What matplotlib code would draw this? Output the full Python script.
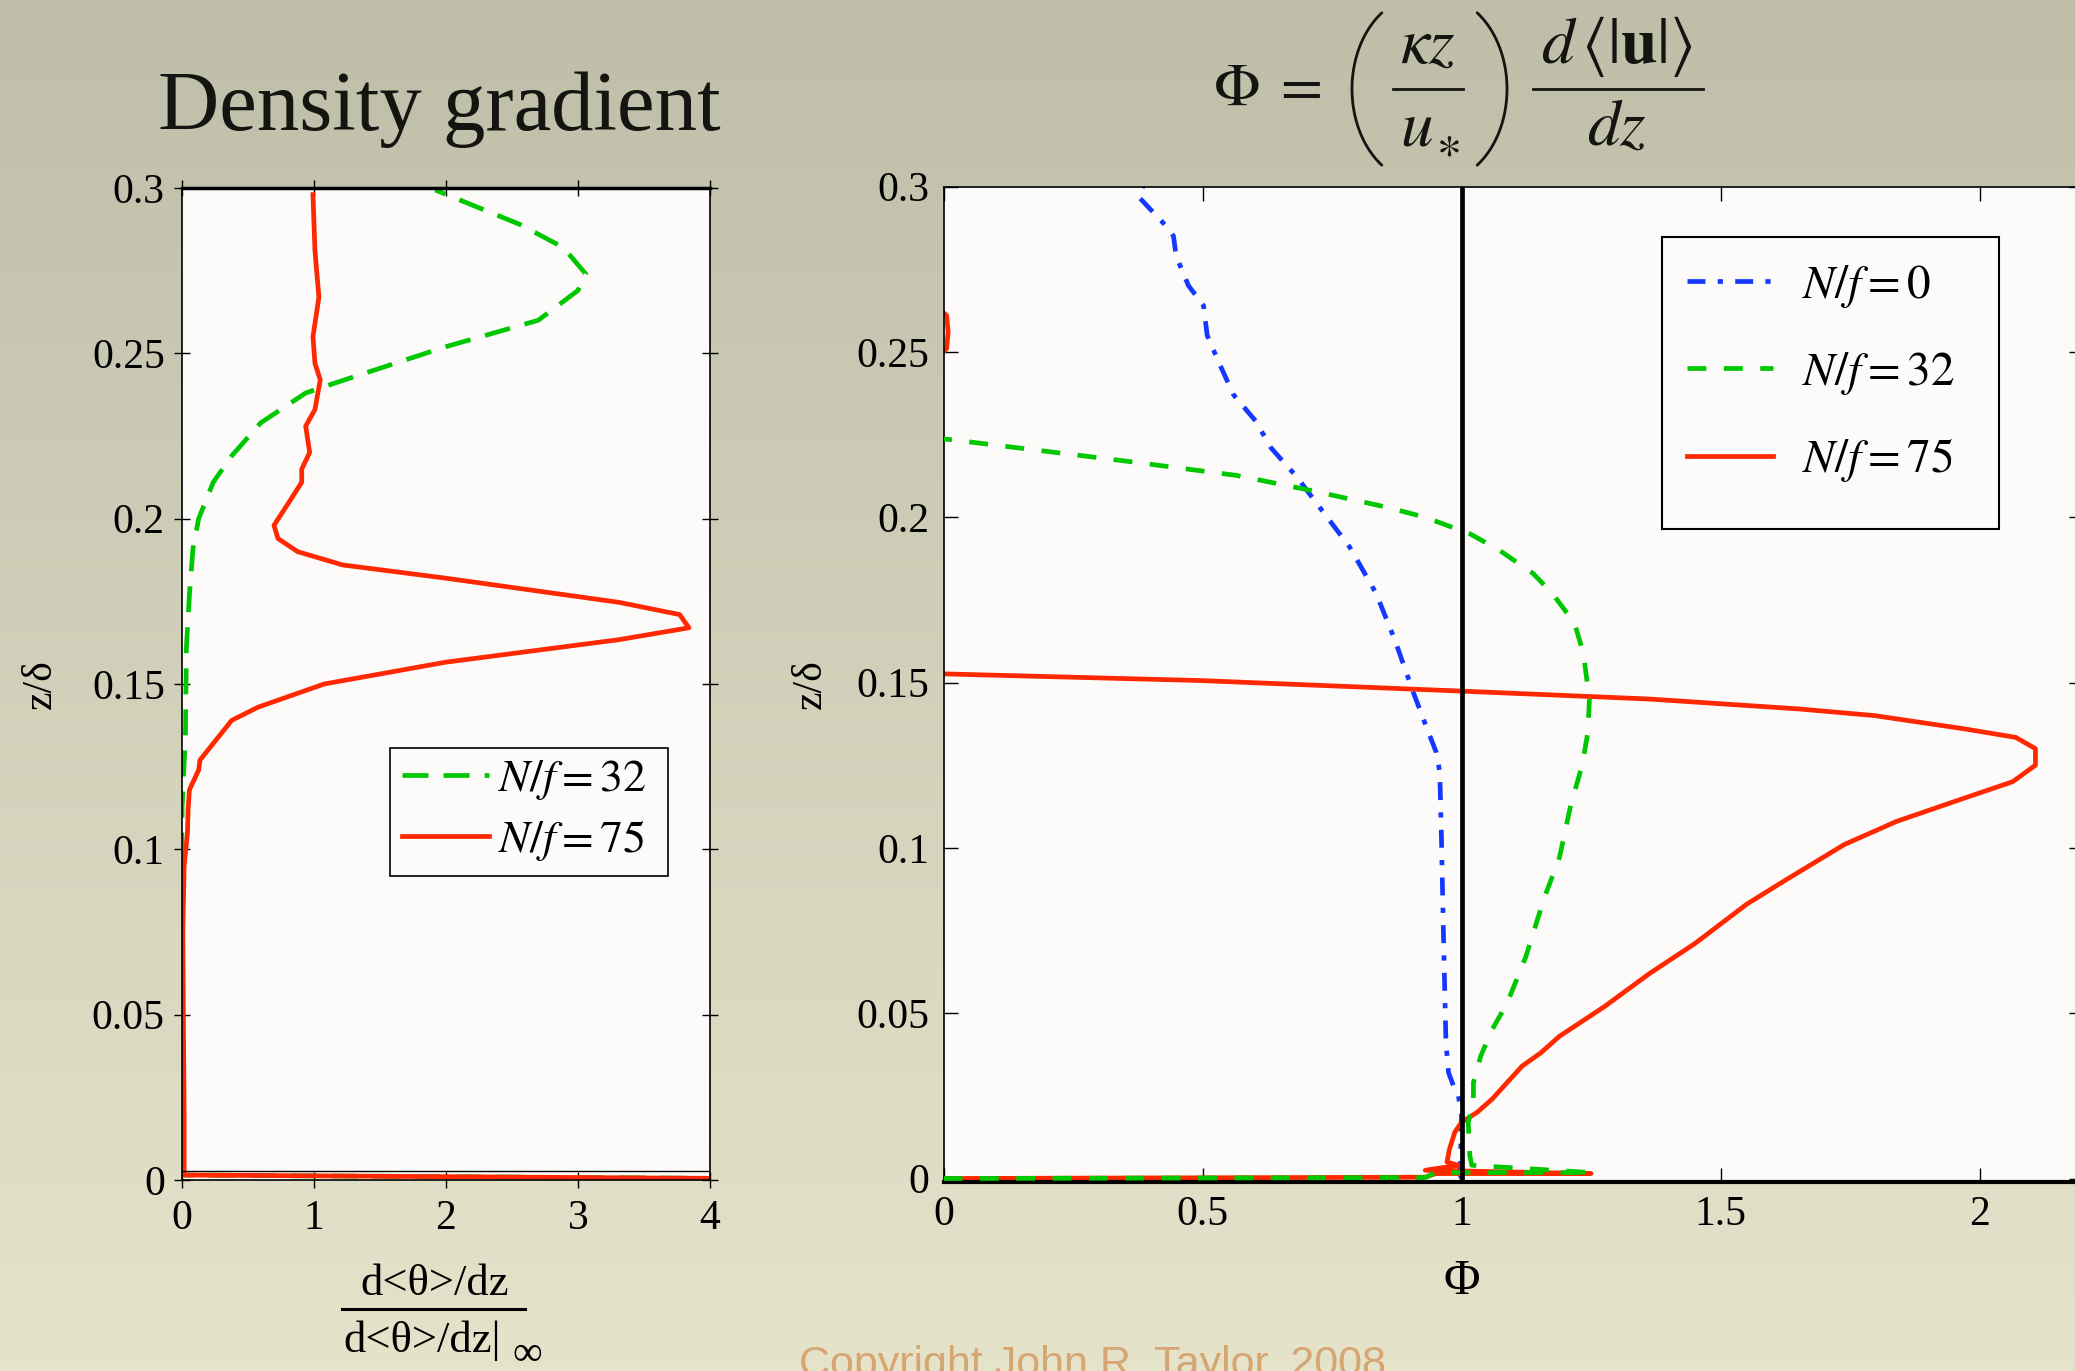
import numpy as np
import matplotlib
matplotlib.use('Agg')
from matplotlib import pyplot as plt
from matplotlib.patches import Rectangle
from matplotlib.lines import Line2D

plt.rcParams['font.family'] = ['Liberation Serif', 'DejaVu Serif']
plt.rcParams['mathtext.fontset'] = 'stix'

W, H = 2075, 1371

# ---- data: left panel (density gradient), x = d<theta>/dz normalised, z = z/delta
left_red_z = [0, 0.0015, 0.02, 0.045, 0.075, 0.095, 0.105, 0.112, 0.118, 0.124, 0.127, 0.131,
              0.135, 0.139, 0.143, 0.150, 0.1566, 0.1634, 0.167, 0.171, 0.1747, 0.182, 0.186,
              0.190, 0.194, 0.198, 0.206, 0.211, 0.215, 0.220, 0.228, 0.233, 0.242, 0.247,
              0.255, 0.267, 0.281, 0.298]
left_red_x = [6.0, 0.02, 0.02, 0.015, 0.01, 0.02, 0.045, 0.05, 0.06, 0.13, 0.14, 0.22,
              0.30, 0.38, 0.58, 1.08, 2.0, 3.31, 3.84, 3.77, 3.31, 2.0, 1.22,
              0.88, 0.73, 0.70, 0.83, 0.91, 0.91, 0.97, 0.94, 1.01, 1.05, 1.01,
              0.995, 1.04, 1.01, 0.995]
left_green_z = [0, 0.0015, 0.05, 0.095, 0.113, 0.135, 0.161, 0.177, 0.191, 0.200, 0.211,
                0.219, 0.229, 0.238, 0.241, 0.252, 0.260, 0.269, 0.274, 0.282, 0.289, 0.2994]
left_green_x = [6.0, 0.0, 0.0, 0.0, 0.005, 0.03, 0.037, 0.06, 0.087, 0.13, 0.24,
                0.38, 0.60, 0.94, 1.16, 2.0, 2.70, 3.0, 3.06, 2.89, 2.56, 1.92]

# ---- data: right panel, Phi profiles
blue_z = [0.0, 0.002, 0.005, 0.019, 0.025, 0.027, 0.032, 0.041, 0.075, 0.105, 0.123, 0.129,
          0.135, 0.147, 0.163, 0.177, 0.191, 0.203, 0.212, 0.221, 0.229, 0.237, 0.247,
          0.255, 0.264, 0.270, 0.279, 0.285, 0.288, 0.297, 0.300]
blue_x = [1.0, 0.995, 0.998, 1.0, 0.994, 0.987, 0.975, 0.970, 0.965, 0.961, 0.958, 0.951,
          0.936, 0.907, 0.871, 0.835, 0.784, 0.726, 0.683, 0.632, 0.603, 0.560, 0.531,
          0.509, 0.502, 0.473, 0.449, 0.444, 0.43, 0.376, 0.385]
green_z = [0, 0.0003, 0.0018, 0.0018, 0.004, 0.007, 0.017, 0.023, 0.029, 0.037, 0.045,
           0.053, 0.067, 0.085, 0.097, 0.113, 0.125, 0.135, 0.145, 0.159, 0.168, 0.177,
           0.183, 0.190, 0.195, 0.200, 0.203, 0.208, 0.2126, 0.217, 0.2234, 0.228, 0.24]
green_x = [0.0, 0.93, 0.95, 1.25, 1.02, 1.016, 1.013, 1.023, 1.023, 1.037, 1.059,
           1.088, 1.124, 1.16, 1.189, 1.211, 1.233, 1.244, 1.247, 1.235, 1.218, 1.175,
           1.138, 1.073, 1.016, 0.929, 0.856, 0.712, 0.567, 0.35, 0.017, -0.3, -1.0]
red_z = [0, 0.0004, 0.0015, 0.0015, 0.0025, 0.004, 0.005, 0.009, 0.014, 0.017, 0.020,
         0.024, 0.029, 0.034, 0.038, 0.043, 0.052, 0.062, 0.071, 0.083, 0.090, 0.101,
         0.108, 0.115, 0.120, 0.125, 0.130, 0.1334, 0.136, 0.140, 0.142, 0.145, 0.1474,
         0.1506, 0.1526, 0.158, 0.20, 0.245, 0.251, 0.256, 0.261, 0.266, 0.29, 0.30]
red_x = [0.0, 0.93, 0.95, 1.25, 0.93, 0.994, 0.972, 0.977, 0.987, 1.0, 1.03,
         1.059, 1.088, 1.117, 1.153, 1.189, 1.276, 1.363, 1.45, 1.551, 1.623, 1.739,
         1.84, 1.97, 2.064, 2.108, 2.108, 2.07, 1.97, 1.797, 1.652, 1.363, 1.0,
         0.495, 0.003, -0.6, -0.4, -0.03, 0.006, 0.009, 0.006, -0.03, -0.4, -0.5]

yticks = [0, 0.05, 0.1, 0.15, 0.2, 0.25, 0.3]
ytick_labels = ['0', '0.05', '0.1', '0.15', '0.2', '0.25', '0.3']
left_xticks = [0, 1, 2, 3, 4]
left_xtick_labels = ['0', '1', '2', '3', '4']
right_xticks = [0, 0.5, 1, 1.5, 2]
right_xtick_labels = ['0', '0.5', '1', '1.5', '2']

c_blue = '#1438ff'
c_green = '#00c800'
c_red = '#ff2800'
face = '#fdfafa'
ink = '#141410'


def px(x0, y0, x1, y1):
    # pixel box (top-left origin) -> figure fraction rect
    return [x0 / W, 1 - y1 / H, (x1 - x0) / W, (y1 - y0) / H]


def fx(x):
    return x / W


def fy(y):
    return 1 - y / H


fig = plt.figure(figsize=(W / 100, H / 100), dpi=100)

# slide background gradient
bg = fig.add_axes([0, 0, 1, 1], zorder=-10)
top = np.array([190, 190, 169]) / 255
bot = np.array([230, 227, 203]) / 255
t = np.linspace(0, 1, 256)[:, None, None]
grad = top * (1 - t) + bot * t
bg.imshow(grad, aspect='auto', extent=[0, 1, 0, 1])
bg.axis('off')

# ---------------- left panel
ax1 = fig.add_axes(px(181.5, 188, 710, 1180))
ax1.set_facecolor(face)
ax1.plot(left_green_x, left_green_z, color=c_green, lw=3.4, dashes=(5.5, 3.2), label=r'$N/f = 32$')
ax1.plot(left_red_x, left_red_z, color=c_red, lw=3.4, label=r'$N/f = 75$')
ax1.axhline(0.0026, color='k', lw=1.0)
ax1.set_xlim(0, 4)
ax1.set_ylim(0, 0.3)
ax1.set_xticks(left_xticks)
ax1.set_xticklabels(left_xtick_labels)
ax1.set_yticks(yticks)
ax1.set_yticklabels(ytick_labels)
ax1.tick_params(direction='inout', length=12, width=1, labelsize=30, top=True, right=True,
                pad=8)
ax1.tick_params(axis='y', pad=6)
for s in ax1.spines.values():
    s.set_linewidth(1.2)
ax1.spines['top'].set_linewidth(2.5)
ax1.set_ylabel('z/δ', fontsize=30, labelpad=23)

leg1 = ax1.legend(loc='upper left', bbox_to_anchor=(fx(401.5), fy(758)),
                  bbox_transform=fig.transFigure, frameon=False, fontsize=33,
                  handlelength=1.9, handletextpad=0.21, labelspacing=0.34,
                  borderpad=0, borderaxespad=0)
fig.patches.append(Rectangle((fx(390), fy(876)), 278 / W, 128 / H, transform=fig.transFigure,
                             fill=False, ec='k', lw=1.2, zorder=5))

# ---------------- right panel
ax2 = fig.add_axes(px(943.5, 186.5, 943.5 + 2.2 * 518, 1181.5))
ax2.set_facecolor(face)
ax2.plot(blue_x, blue_z, color=c_blue, lw=3.4, dashes=(3.8, 2.6, 1.1, 2.6), label=r'$N/f = 0$')
ax2.plot(red_x, red_z, color=c_red, lw=3.4, label=r'$N/f = 75$', zorder=2)
ax2.plot(green_x, green_z, color=c_green, lw=3.4, dashes=(4.0, 3.7), label=r'$N/f = 32$', zorder=3)
ax2.axvline(1.0, color='k', lw=3.4, zorder=4)
ax2.set_xlim(0, 2.2)
ax2.set_ylim(-0.0009, 0.3)
ax2.set_xticks(right_xticks)
ax2.set_xticklabels(right_xtick_labels)
ax2.set_yticks(yticks)
ax2.set_yticklabels(ytick_labels)
ax2.tick_params(direction='in', length=10, width=1, labelsize=30, top=True, right=True, pad=10)
for s in ax2.spines.values():
    s.set_linewidth(1.2)
ax2.spines['bottom'].set_linewidth(3)
ax2.set_ylabel('z/δ', fontsize=30, labelpad=19)

h, l = ax2.get_legend_handles_labels()
order = [0, 2, 1]
leg2 = ax2.legend([h[i] for i in order], [l[i] for i in order], loc='upper left',
                  bbox_to_anchor=(fx(1687), fy(263)), bbox_transform=fig.transFigure,
                  frameon=False, fontsize=34, handlelength=1.82, handletextpad=0.61,
                  labelspacing=0.84, borderpad=0, borderaxespad=0)
fig.patches.append(Rectangle((fx(1662), fy(529)), 337 / W, 292 / H, transform=fig.transFigure,
                             fill=False, ec='k', lw=1.5, zorder=5))

# ---------------- titles
fig.text(fx(439), fy(130), 'Density gradient', fontsize=61, ha='center', va='baseline', color=ink)

# Phi = (kappa z / u_*) d<|u|>/dz, laid out piece by piece
fs = 47
fig.text(fx(1213), fy(105), r'$\Phi\;=$', fontsize=44, ha='left', va='baseline', color=ink)
fig.text(fx(1428), fy(63), r'$\kappa z$', fontsize=fs, ha='center', va='baseline', color=ink)
fig.text(fx(1417), fy(145), r'$u$', fontsize=fs, ha='center', va='baseline', color=ink)
fig.text(fx(1448), fy(146), r'$\ast$', fontsize=34, ha='center', va='center', color=ink)
fig.text(fx(1617), fy(63), r'$d\,\langle|\mathbf{u}|\rangle$', fontsize=fs, ha='center',
         va='baseline', color=ink)
fig.text(fx(1617), fy(145), r'$dz$', fontsize=fs, ha='center', va='baseline', color=ink)
for xa, xb in [(1393, 1463), (1533, 1703)]:
    fig.add_artist(Line2D([fx(xa), fx(xb)], [fy(89), fy(89)], color=ink, lw=2.0))
# big round brackets
th = np.radians(np.linspace(125, 235, 60))
for cx, sgn in [(1422, 1), (1437, -1)]:
    xs = cx + sgn * 70 * np.cos(th)
    ys = 89 + 93 * np.sin(th)
    fig.add_artist(Line2D(fx(xs), fy(ys), color=ink, lw=2.0, solid_capstyle='round'))

# ---------------- axis labels
fig.text(fx(1462), fy(1282), 'Φ', fontsize=36, ha='center', va='center')

fig.text(fx(435), fy(1295), 'd<θ>/dz', fontsize=32, ha='center', va='baseline')
fig.add_artist(Line2D([fx(342), fx(525)], [fy(1309), fy(1309)], color='k', lw=2.2))
fig.text(fx(343), fy(1352), 'd<θ>/dz|', fontsize=32, ha='left', va='baseline')
fig.text(fx(512), fy(1365), '∞', fontsize=30, ha='left', va='baseline')

fig.text(fx(799), fy(1376), 'Copyright John R. Taylor, 2008', fontsize=31,
         family='Liberation Sans', color='#d6a672', ha='left', va='baseline')

fig.savefig('out.png', dpi=100)
